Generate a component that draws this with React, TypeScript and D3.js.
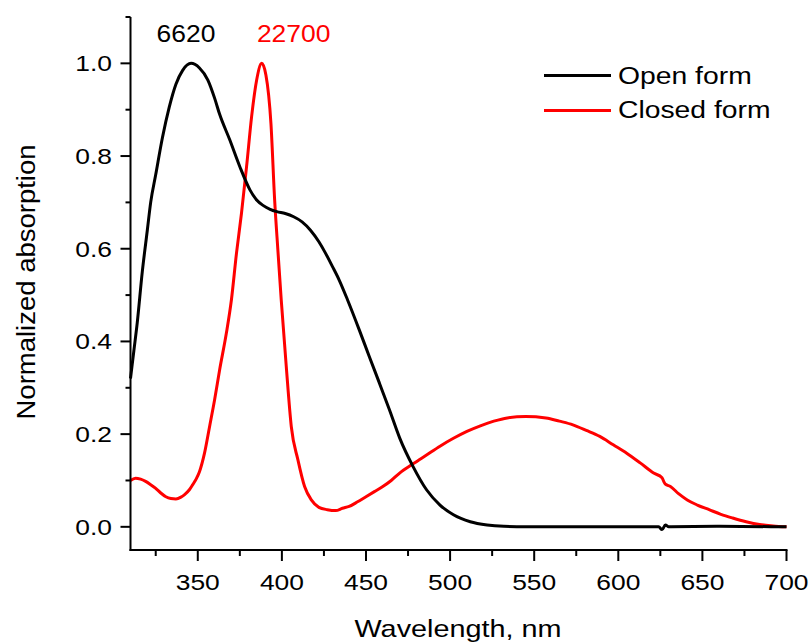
import React from "react";
import * as d3 from "d3";

// Absorption spectra: wavelength (nm) and normalized absorbance
const openWavelengths = [
  310, 312, 314, 317, 320, 322, 325, 329, 333, 337, 341, 346, 351, 356, 360, 363, 369, 375, 381, 385,
  389, 393, 397, 402, 407, 412, 417, 422, 426, 430, 434, 439, 446, 452, 458, 464, 470, 478, 486, 494,
  502, 512, 522, 532, 545, 600, 624, 626, 628, 630, 660, 700,
];
const openValues = [
  0.32, 0.38, 0.44, 0.55, 0.64, 0.70, 0.76, 0.84, 0.905, 0.955, 0.985, 1.0, 0.99, 0.964, 0.925, 0.89,
  0.835, 0.777, 0.727, 0.705, 0.693, 0.685, 0.68, 0.676, 0.669, 0.658, 0.64, 0.615, 0.59, 0.562, 0.533,
  0.49, 0.425, 0.367, 0.31, 0.252, 0.192, 0.13, 0.08, 0.047, 0.026, 0.011, 0.004, 0.001, 0, 0, 0,
  -0.006, 0.004, 0, 0.001, 0,
];

const closedWavelengths = [
  310, 313, 316, 319, 322, 325, 328, 331, 334, 337, 340, 342, 345, 347, 349, 351, 354, 357, 360, 363,
  367, 370, 373, 376, 379, 382, 385, 388, 390.5, 393.5, 395.7, 397.6, 399.6, 402.6, 405.6, 409.5, 413.5,
  417.5, 422, 427, 432, 436, 440, 445, 450, 455, 460, 465, 470, 478, 486, 494, 502, 510, 518, 526, 534,
  545, 557, 565, 573, 581, 589, 597, 605, 613, 621, 626, 627, 628, 631, 636, 641, 647, 654, 661, 668,
  676, 684, 692, 700,
];
const closedValues = [
  0.1, 0.105, 0.103, 0.098, 0.091, 0.083, 0.073, 0.065, 0.061, 0.06, 0.064, 0.069, 0.08, 0.091, 0.103,
  0.119, 0.159, 0.216, 0.274, 0.339, 0.418, 0.49, 0.59, 0.677, 0.777, 0.885, 0.964, 1.0, 0.975, 0.87,
  0.705, 0.598, 0.49, 0.346, 0.216, 0.145, 0.087, 0.058, 0.042, 0.037, 0.035, 0.04, 0.044, 0.054, 0.065,
  0.076, 0.087, 0.1, 0.116, 0.136, 0.155, 0.174, 0.191, 0.206, 0.218, 0.228, 0.235, 0.238, 0.235, 0.228,
  0.22, 0.208, 0.195, 0.177, 0.159, 0.138, 0.116, 0.106, 0.098, 0.092, 0.087, 0.071, 0.058, 0.047, 0.037,
  0.027, 0.019, 0.011, 0.005, 0.002, 0.0,
];

const xMajorTicks = [350, 400, 450, 500, 550, 600, 650, 700];
const xMinorTicks = [325, 375, 425, 475, 525, 575, 625, 675];
const yMajorTicks = [0, 0.2, 0.4, 0.6, 0.8, 1.0];
const yMinorTicks = [0.1, 0.3, 0.5, 0.7, 0.9, 1.1];

const seriesNames = ["Open form", "Closed form"];
const seriesColors = ["#000000", "#ff0000"];
// molar absorption coefficients written above the spectra, placed by wavelength
const peakLabels = ["6620", "22700"];
const peakLabelWavelengths = [343, 407];

const FONT = "Arial, 'Liberation Sans', Helvetica, sans-serif";

function Stretched({ x, y, sx = 1.2, size, anchor = "start", fill = "#000", children }: any) {
  return (
    <g transform={`translate(${x},${y}) scale(${sx},1)`}>
      <text fontFamily={FONT} fontSize={size} textAnchor={anchor} fill={fill}>
        {children}
      </text>
    </g>
  );
}

export default function App() {
  const x = d3.scaleLinear().domain([310, 700]).range([130.5, 786.5]);
  const y = d3.scaleLinear().domain([-0.05, 1.1]).range([550, 17]);

  const line = d3
    .line<[number, number]>()
    .x((d) => x(d[0]))
    .y((d) => y(d[1]))
    .curve(d3.curveMonotoneX);

  const openData = openWavelengths.map((w, i) => [w, openValues[i]] as [number, number]);
  const closedData = closedWavelengths.map((w, i) => [w, closedValues[i]] as [number, number]);

  const x0 = x.range()[0];
  const y0 = y.range()[0];

  return (
    <svg
      width={812}
      height={643}
      style={{ position: "absolute", left: 0, top: 0, background: "#fff" }}
    >
      <rect width={812} height={643} fill="#fff" />

      {/* spectra */}
      <path d={line(closedData) || ""} fill="none" stroke={seriesColors[1]} strokeWidth={3} strokeLinejoin="round" />
      <path d={line(openData) || ""} fill="none" stroke={seriesColors[0]} strokeWidth={3} strokeLinejoin="round" />

      {/* axes */}
      <g stroke="#000" strokeWidth={2} fill="none">
        <line x1={x0} x2={x0} y1={y.range()[1]} y2={y0 + 1} />
        <line x1={x0 - 1} x2={x.range()[1] + 1} y1={y0} y2={y0} />
        {yMajorTicks.map((v) => (
          <line key={"ym" + v} x1={x0 - 10} x2={x0} y1={y(v)} y2={y(v)} />
        ))}
        {yMinorTicks.map((v) => (
          <line key={"yn" + v} x1={x0 - 5} x2={x0} y1={y(v)} y2={y(v)} />
        ))}
        {xMajorTicks.map((v) => (
          <line key={"xm" + v} x1={x(v)} x2={x(v)} y1={y0} y2={y0 + 11} />
        ))}
        {xMinorTicks.map((v) => (
          <line key={"xn" + v} x1={x(v)} x2={x(v)} y1={y0} y2={y0 + 6} />
        ))}
      </g>

      {/* tick labels */}
      {yMajorTicks.map((v) => (
        <Stretched key={"yl" + v} x={112} y={y(v) + 8} size={22} anchor="end">
          {d3.format(".1f")(v)}
        </Stretched>
      ))}
      {xMajorTicks.map((v) => (
        <Stretched key={"xl" + v} x={x(v)} y={590} size={22} anchor="middle">
          {String(v)}
        </Stretched>
      ))}

      {/* axis titles */}
      <Stretched x={458} y={637} size={24} sx={1.2} anchor="middle">
        Wavelength, nm
      </Stretched>
      <g transform={`translate(35,282) rotate(-90) scale(1.1,1)`}>
        <text fontFamily={FONT} fontSize={25} textAnchor="middle" fill="#000">
          Normalized absorption
        </text>
      </g>

      {/* peak annotations */}
      {peakLabels.map((t, i) => (
        <Stretched key={t} x={x(peakLabelWavelengths[i])} y={42} size={23} sx={1.15} anchor="middle" fill={seriesColors[i]}>
          {t}
        </Stretched>
      ))}

      {/* legend */}
      {seriesNames.map((name, i) => (
        <g key={name}>
          <line x1={544} x2={611} y1={75.5 + i * 35} y2={75.5 + i * 35} stroke={seriesColors[i]} strokeWidth={3} />
          <Stretched x={618} y={84 + i * 34} size={24} sx={1.18}>
            {name}
          </Stretched>
        </g>
      ))}
    </svg>
  );
}
